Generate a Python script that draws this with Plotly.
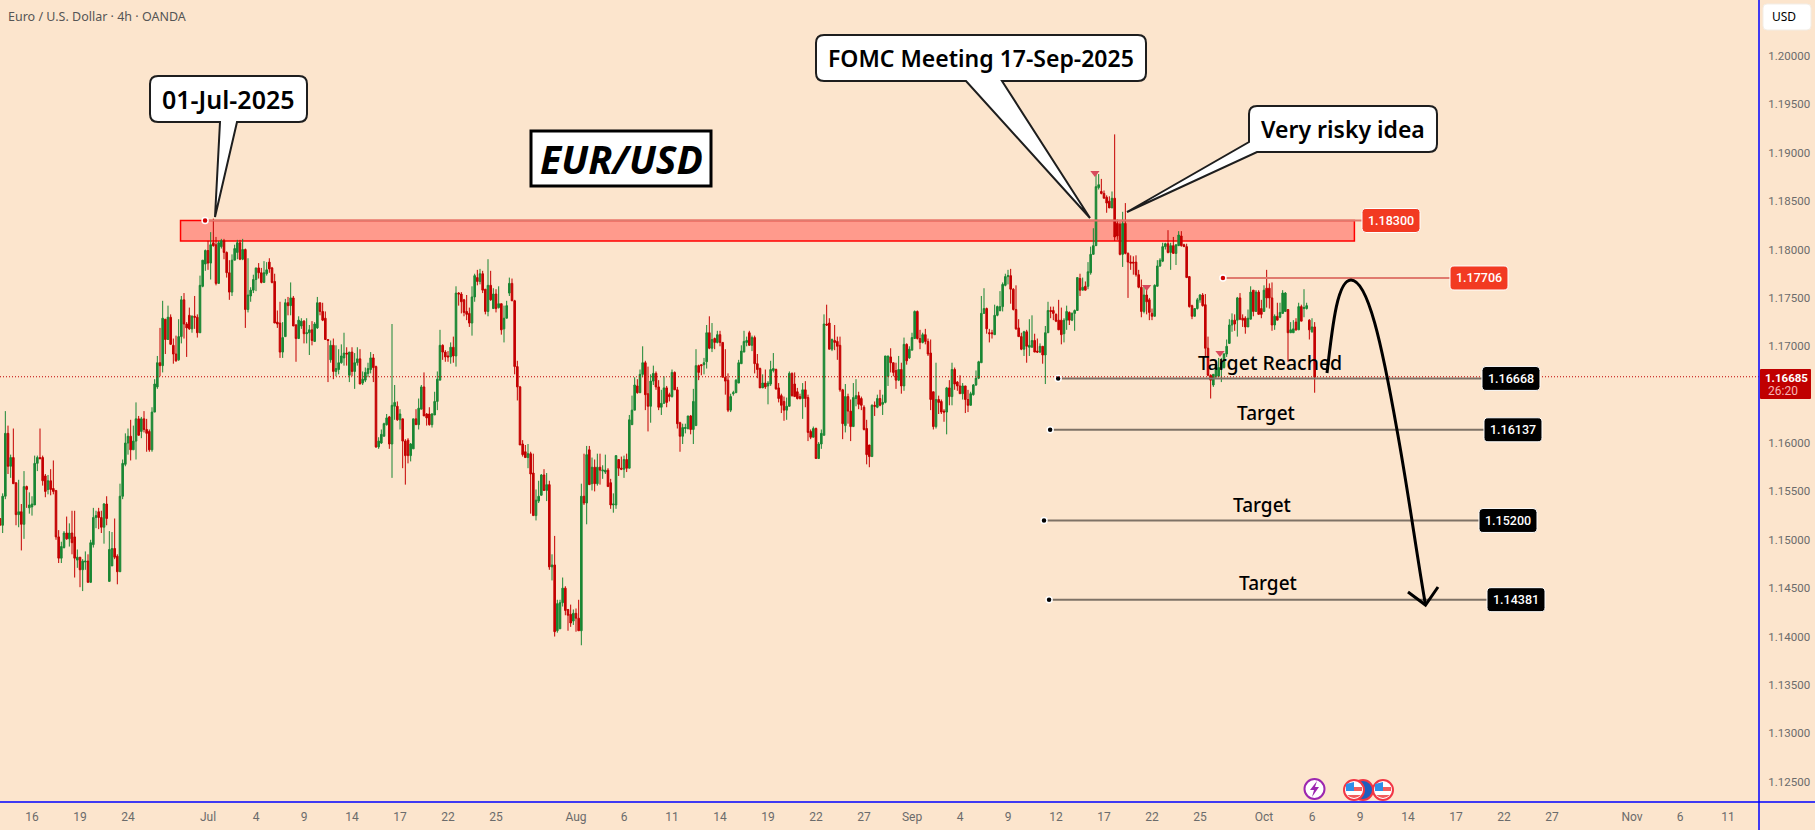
import re
import numpy as np
import plotly.graph_objects as go

# --- 4h candles, prices in 1/10000 USD -------------------------------------
direction = (
    "RGGRGRRGRG" "RGGGGRRRGR" "RRRGGRGRRG" "RGGRGGGRRG" "RGGRRGGGGR"
    "GGRGRRRGGG" "RGRGRRRGGR" "RRGRRGGGRG" "RRGGRRRGGG" "RGRGGGGRRG"
    "GRRRRRGGRG" "RRGGRGGRGG" "RRRRGRGGGG" "RGRGGRGGGG" "RRGGGGRGGR"
    "GRRRGGRGGR" "RRGGGGRRRG" "RGRRRRRGGR" "GRRGRGRGRG" "GGRRRRRRGR"
    "RGGGRGRGRG" "GGRRRGRRGR" "GRGRGRGGRR" "GGRRGRGGGR" "GGRRGGRRGG"
    "RRGRRRGGGR" "GGRRGGRGRG" "RRRRGGGGGG" "GRGRRRGRGG" "GRRRRGGRRR"
    "RGRRRGRGGG" "RRGRRRRGRR" "GGRRRRRGRG" "RGGGRRRGRG" "RGGGRRGRRR"
    "RGRRRGRGRR" "RGRRGGGGGG" "RRRGGGGGGR" "RRRRGRGGRR" "GRGGRRRRRG"
    "GRGGGRGRGG" "GGGRRRRGRR" "RGRRRRRRRG" "RRRGGGGGRG" "RGGRRRRRGG"
    "GRRRRGGGGG" "GGGRGRRRGG" "RGRRGRRRGR" "GGGRGGRGRG" "GRGR"
)

body_top = [
    11522,11545,11610,11610,11585,11585,11559,11529,11529,11555,
    11555,11536,11537,11579,11585,11585,11585,11566,11561,11561,
    11553,11551,11503,11493,11507,11507,11507,11507,11503,11482,
    11482,11478,11478,11478,11497,11523,11525,11529,11523,11537,
    11537,11490,11491,11491,11483,11545,11579,11600,11607,11607,
    11602,11625,11625,11625,11625,11614,11612,11632,11661,11683,
    11683,11729,11728,11730,11730,11701,11692,11710,11748,11748,
    11723,11732,11731,11731,11730,11763,11789,11799,11799,11805,
    11807,11805,11807,11809,11809,11797,11776,11789,11801,11807,
    11807,11800,11800,11753,11758,11769,11781,11781,11776,11776,
    11779,11787,11781,11767,11725,11724,11709,11745,11745,11750,
    11750,11722,11727,11726,11726,11714,11717,11717,11723,11745,
    11745,11736,11729,11707,11701,11701,11677,11683,11690,11693,
    11693,11694,11694,11683,11687,11687,11666,11673,11677,11688,
    11688,11679,11602,11609,11620,11626,11627,11639,11642,11638,
    11630,11625,11602,11603,11599,11625,11625,11636,11658,11658,
    11630,11630,11630,11643,11666,11701,11701,11694,11690,11699,
    11699,11755,11755,11754,11748,11736,11734,11751,11773,11771,
    11775,11775,11759,11763,11763,11754,11754,11744,11744,11729,
    11742,11765,11765,11747,11679,11658,11599,11591,11589,11589,
    11569,11541,11545,11567,11567,11557,11557,11474,11474,11434,
    11435,11450,11450,11428,11423,11424,11424,11419,11545,11545,
    11588,11593,11575,11575,11575,11575,11572,11572,11572,11559,
    11537,11587,11583,11574,11583,11583,11624,11634,11660,11659,
    11671,11683,11683,11651,11664,11672,11672,11658,11641,11657,
    11657,11650,11673,11673,11655,11621,11616,11616,11628,11628,
    11643,11680,11680,11681,11683,11714,11714,11707,11708,11712,
    11712,11704,11668,11665,11648,11652,11665,11683,11695,11705,
    11706,11714,11709,11709,11682,11677,11662,11662,11662,11676,
    11677,11676,11657,11649,11643,11638,11672,11672,11661,11653,
    11648,11655,11655,11647,11612,11615,11615,11599,11610,11723,
    11723,11724,11707,11706,11705,11701,11655,11648,11648,11633,
    11647,11649,11649,11646,11637,11615,11598,11639,11639,11646,
    11646,11642,11690,11690,11689,11683,11675,11676,11676,11702,
    11702,11697,11709,11736,11736,11708,11712,11712,11705,11693,
    11653,11645,11645,11643,11633,11657,11657,11676,11676,11663,
    11659,11659,11659,11645,11651,11660,11667,11684,11734,11739,
    11739,11714,11714,11732,11741,11741,11764,11772,11773,11773,
    11759,11738,11719,11710,11715,11715,11701,11706,11706,11695,
    11700,11700,11714,11737,11737,11737,11733,11727,11727,11727,
    11736,11735,11734,11737,11771,11770,11761,11762,11777,11795,
    11804,11865,11867,11860,11858,11854,11850,11853,11853,11827,
    11826,11827,11827,11796,11787,11787,11787,11774,11761,11753,
    11753,11748,11734,11763,11783,11789,11803,11806,11806,11804,
    11804,11805,11815,11814,11805,11803,11772,11742,11739,11748,
    11753,11753,11743,11698,11670,11671,11681,11678,11683,11692,
    11700,11722,11727,11727,11750,11750,11729,11729,11729,11756,
    11758,11756,11756,11739,11758,11760,11760,11750,11731,11731,
    11735,11755,11755,11738,11717,11718,11725,11741,11741,11740,
    11742,11727,11720,11720,
]

body_bottom = [
    11515,11515,11545,11576,11576,11558,11526,11526,11516,11516,
    11552,11533,11534,11536,11579,11584,11561,11550,11552,11552,
    11550,11503,11481,11481,11492,11501,11501,11497,11481,11479,
    11469,11469,11477,11456,11456,11495,11523,11523,11513,11513,
    11522,11457,11473,11482,11467,11467,11545,11578,11600,11593,
    11593,11602,11608,11612,11614,11610,11593,11593,11632,11658,
    11680,11680,11707,11707,11702,11692,11685,11686,11710,11723,
    11719,11718,11718,11730,11714,11714,11762,11785,11786,11786,
    11804,11765,11765,11803,11797,11776,11756,11756,11789,11797,
    11790,11790,11738,11738,11752,11758,11769,11776,11766,11766,
    11775,11780,11766,11724,11723,11694,11694,11710,11742,11742,
    11721,11708,11708,11721,11713,11713,11714,11706,11705,11719,
    11736,11727,11707,11706,11686,11674,11674,11676,11683,11688,
    11692,11670,11674,11674,11683,11661,11662,11665,11672,11676,
    11678,11596,11596,11600,11607,11619,11599,11599,11638,11624,
    11624,11602,11587,11587,11587,11594,11619,11619,11635,11628,
    11626,11619,11619,11629,11643,11665,11694,11689,11689,11689,
    11690,11690,11754,11746,11735,11733,11724,11724,11751,11767,
    11767,11758,11736,11736,11748,11739,11739,11740,11717,11718,
    11729,11755,11747,11679,11658,11598,11588,11585,11585,11568,
    11525,11525,11540,11546,11551,11551,11472,11472,11405,11406,
    11408,11435,11427,11422,11414,11416,11419,11406,11406,11538,
    11538,11557,11558,11558,11558,11572,11571,11570,11555,11536,
    11536,11536,11574,11573,11573,11574,11574,11619,11634,11652,
    11652,11671,11650,11638,11638,11664,11658,11637,11637,11641,
    11642,11648,11648,11655,11620,11607,11607,11615,11615,11614,
    11614,11618,11673,11680,11681,11684,11698,11698,11704,11704,
    11704,11668,11664,11634,11634,11651,11652,11662,11682,11694,
    11704,11701,11701,11682,11676,11657,11657,11658,11659,11661,
    11675,11656,11646,11639,11634,11634,11638,11649,11648,11646,
    11646,11646,11646,11611,11606,11606,11584,11584,11599,11608,
    11722,11697,11697,11704,11700,11655,11620,11618,11633,11617,
    11617,11646,11640,11639,11614,11588,11586,11586,11638,11637,
    11639,11640,11642,11669,11683,11673,11665,11665,11659,11659,
    11685,11688,11696,11708,11708,11704,11704,11705,11692,11645,
    11617,11617,11642,11632,11632,11632,11648,11648,11661,11659,
    11651,11651,11645,11639,11639,11650,11660,11667,11683,11734,
    11718,11713,11713,11712,11732,11737,11741,11763,11772,11759,
    11738,11718,11710,11697,11697,11700,11699,11699,11694,11694,
    11694,11691,11691,11714,11736,11734,11726,11717,11712,11713,
    11727,11727,11727,11734,11737,11758,11758,11758,11762,11776,
    11795,11804,11864,11858,11853,11848,11843,11843,11813,11814,
    11795,11795,11796,11787,11786,11786,11774,11761,11736,11736,
    11746,11735,11731,11731,11762,11783,11788,11803,11797,11797,
    11796,11796,11804,11804,11803,11771,11741,11731,11731,11739,
    11748,11742,11698,11670,11665,11660,11669,11669,11677,11678,
    11692,11703,11722,11723,11727,11728,11727,11720,11720,11728,
    11736,11736,11733,11733,11736,11750,11750,11722,11722,11727,
    11730,11734,11736,11714,11714,11714,11717,11717,11726,11739,
    11739,11717,11715,11668,
]

high = [
    11522,11548,11633,11618,11588,11615,11559,11562,11537,11571,
    11556,11549,11545,11587,11587,11615,11587,11568,11567,11573,
    11582,11551,11510,11498,11509,11524,11517,11530,11530,11490,
    11482,11480,11488,11485,11500,11533,11530,11533,11530,11538,
    11545,11509,11508,11522,11485,11558,11583,11610,11615,11624,
    11618,11642,11628,11627,11633,11625,11614,11637,11666,11690,
    11719,11747,11728,11742,11733,11708,11711,11728,11752,11755,
    11725,11740,11732,11752,11733,11773,11789,11800,11809,11818,
    11832,11813,11809,11811,11811,11798,11789,11795,11805,11810,
    11810,11811,11801,11791,11761,11774,11781,11786,11781,11788,
    11787,11791,11782,11775,11737,11746,11725,11749,11751,11766,
    11752,11723,11731,11729,11727,11729,11722,11726,11725,11751,
    11745,11745,11736,11707,11706,11708,11701,11697,11702,11714,
    11699,11694,11699,11693,11699,11697,11674,11678,11683,11694,
    11692,11680,11606,11614,11621,11630,11628,11723,11660,11643,
    11635,11625,11604,11605,11600,11625,11635,11646,11660,11673,
    11631,11637,11631,11653,11674,11717,11702,11696,11695,11704,
    11710,11762,11756,11756,11749,11753,11740,11762,11775,11779,
    11780,11778,11759,11790,11778,11760,11759,11762,11744,11742,
    11747,11771,11770,11748,11685,11659,11603,11598,11599,11591,
    11589,11552,11561,11568,11573,11569,11561,11485,11504,11438,
    11438,11461,11452,11428,11433,11428,11429,11438,11558,11589,
    11597,11597,11585,11583,11589,11589,11577,11588,11574,11563,
    11548,11587,11583,11586,11587,11589,11629,11649,11668,11666,
    11676,11700,11685,11679,11671,11680,11674,11665,11655,11669,
    11659,11652,11676,11674,11658,11622,11620,11620,11628,11629,
    11656,11697,11681,11681,11688,11722,11731,11724,11709,11716,
    11716,11704,11697,11672,11651,11654,11666,11686,11701,11716,
    11710,11716,11711,11711,11692,11678,11671,11676,11664,11685,
    11693,11677,11662,11651,11648,11647,11674,11673,11673,11657,
    11651,11662,11664,11650,11614,11617,11616,11601,11614,11733,
    11743,11729,11708,11722,11710,11710,11656,11661,11651,11645,
    11662,11666,11653,11648,11639,11624,11598,11640,11643,11650,
    11655,11650,11690,11690,11698,11683,11683,11690,11683,11709,
    11703,11700,11714,11737,11737,11717,11714,11718,11708,11707,
    11653,11683,11649,11645,11635,11658,11665,11683,11678,11664,
    11670,11662,11659,11655,11653,11661,11675,11685,11752,11760,
    11740,11718,11717,11743,11742,11757,11766,11775,11779,11780,
    11760,11763,11728,11714,11716,11717,11728,11732,11713,11708,
    11703,11700,11721,11746,11741,11741,11734,11748,11740,11729,
    11742,11736,11735,11738,11771,11775,11771,11767,11787,11803,
    11822,11878,11878,11873,11861,11856,11855,11860,11919,11831,
    11828,11839,11848,11797,11794,11793,11794,11779,11769,11762,
    11759,11750,11739,11764,11789,11791,11807,11807,11820,11807,
    11813,11805,11819,11819,11806,11806,11772,11743,11739,11750,
    11754,11755,11754,11710,11671,11671,11686,11688,11688,11693,
    11707,11728,11734,11733,11751,11755,11733,11731,11738,11762,
    11758,11758,11758,11748,11763,11779,11765,11766,11733,11745,
    11745,11758,11756,11738,11725,11727,11729,11745,11743,11759,
    11745,11728,11729,11725,
]

low = [
    11515,11507,11542,11568,11564,11558,11515,11513,11489,11501,
    11533,11527,11525,11536,11571,11583,11556,11544,11547,11546,
    11547,11500,11476,11476,11491,11500,11493,11485,11461,11471,
    11451,11447,11469,11456,11456,11492,11512,11511,11507,11496,
    11515,11457,11473,11480,11454,11467,11542,11576,11588,11582,
    11593,11583,11608,11605,11611,11591,11591,11591,11632,11656,
    11669,11673,11692,11707,11702,11682,11684,11685,11703,11708,
    11689,11717,11714,11718,11709,11714,11761,11778,11779,11769,
    11803,11763,11765,11801,11790,11771,11748,11752,11789,11790,
    11789,11789,11719,11735,11746,11755,11757,11770,11765,11766,
    11773,11776,11765,11724,11719,11688,11688,11710,11732,11732,
    11721,11684,11708,11718,11703,11703,11691,11701,11705,11718,
    11732,11726,11707,11663,11683,11666,11669,11671,11682,11680,
    11680,11663,11669,11656,11680,11661,11660,11663,11668,11672,
    11663,11595,11594,11599,11607,11618,11594,11564,11624,11623,
    11614,11574,11557,11579,11581,11594,11619,11614,11635,11628,
    11618,11618,11616,11629,11634,11665,11686,11684,11684,11682,
    11683,11679,11742,11734,11731,11727,11720,11711,11746,11763,
    11764,11755,11733,11731,11747,11739,11735,11739,11712,11704,
    11729,11752,11747,11671,11644,11598,11586,11585,11574,11527,
    11525,11520,11538,11546,11551,11540,11469,11458,11400,11404,
    11408,11431,11422,11406,11410,11412,11405,11406,11391,11536,
    11516,11557,11551,11550,11556,11557,11563,11568,11555,11532,
    11528,11532,11566,11572,11564,11570,11574,11619,11634,11651,
    11652,11668,11634,11612,11621,11660,11655,11634,11629,11641,
    11637,11643,11647,11655,11615,11591,11599,11610,11614,11609,
    11599,11618,11665,11670,11671,11677,11697,11694,11697,11703,
    11700,11668,11650,11632,11632,11649,11652,11662,11682,11694,
    11700,11701,11695,11672,11667,11657,11657,11656,11640,11659,
    11673,11655,11642,11631,11623,11624,11638,11648,11648,11645,
    11645,11625,11637,11602,11604,11606,11584,11584,11594,11608,
    11721,11697,11695,11696,11686,11653,11604,11611,11620,11602,
    11617,11638,11635,11634,11613,11578,11575,11586,11628,11636,
    11638,11629,11641,11659,11673,11669,11656,11664,11651,11654,
    11681,11687,11696,11708,11707,11697,11703,11702,11690,11634,
    11614,11615,11630,11630,11622,11609,11639,11639,11655,11654,
    11651,11645,11631,11632,11639,11649,11659,11666,11683,11734,
    11713,11704,11708,11712,11731,11736,11736,11762,11764,11744,
    11737,11717,11710,11696,11690,11683,11690,11699,11694,11693,
    11693,11682,11661,11714,11729,11727,11725,11717,11702,11704,
    11717,11722,11726,11716,11737,11752,11758,11758,11759,11774,
    11795,11804,11862,11857,11853,11838,11843,11843,11809,11810,
    11794,11782,11795,11750,11779,11774,11772,11760,11730,11734,
    11733,11727,11727,11731,11762,11782,11787,11800,11796,11779,
    11796,11784,11804,11803,11803,11771,11740,11728,11731,11738,
    11745,11741,11689,11669,11646,11658,11667,11669,11663,11677,
    11689,11703,11715,11716,11710,11727,11720,11713,11720,11728,
    11731,11736,11733,11729,11736,11740,11739,11716,11717,11727,
    11729,11734,11736,11684,11714,11714,11716,11717,11726,11730,
    11738,11707,11714,11652,
]

assert len(direction) == len(body_top) == len(body_bottom) == len(high) == len(low)

# --- axis ticks ------------------------------------------------------------
time_tick_bars = [12, 30, 48, 78, 96, 114, 132, 150, 168, 186, 216, 234, 252, 270, 288, 306,
                  324, 342, 360, 378, 396, 414, 432, 450, 474, 492, 510, 528, 546, 564, 582,
                  612, 630, 648]
time_tick_labels = ["16", "19", "24", "Jul", "4", "9", "14", "17", "22", "25", "Aug", "6", "11",
                    "14", "19", "22", "27", "Sep", "4", "9", "12", "17", "22", "25", "Oct", "6",
                    "9", "14", "17", "22", "27", "Nov", "6", "11"]
# 1.16500 sits under the last-price tag, so the scale leaves it out
price_ticks = [1.125, 1.13, 1.135, 1.14, 1.145, 1.15, 1.155, 1.16,
               1.17, 1.175, 1.18, 1.185, 1.19, 1.195, 1.20]

# --- horizontal levels: price, first bar, last bar, tag colour, tag left edge ---
level_prices = [1.18300, 1.17706, 1.16668, 1.16137, 1.15200, 1.14381]
level_start_bar = [76.9, 458.6, 396.8, 393.8, 391.5, 393.4]
level_end_bar = [510.7, 543.7, 555.7, 556.5, 554.6, 557.6]
level_tag_left = [1362, 1450, 1482, 1484, 1479, 1487]
level_tag_color = ["#F23A22", "#F23A22", "#000000", "#000000", "#000000", "#000000"]
level_line_color = ["#E07A6E", "#E07A6E", "#7E7266", "#7E7266", "#7E7266", "#7E7266"]
level_dot_color = ["#D00000", "#D00000", "#000000", "#000000", "#000000", "#000000"]

last_price = 1.16685
zone_top, zone_bottom = 1.18300, 1.18088
zone_first_bar, zone_last_bar = 67.7, 507.9
marker_bars = [410.6, 430.0, 457.5]
marker_prices = [1.18791, 1.17613, 1.16931]

UP_COLOR = "#1A8734"
DOWN_COLOR = "#C40000"
BG = "#FCE5CD"
AXIS_BLUE = "#0000FF"
TEXT_FONT = "Noto Sans"
SCALE_FONT = "Roboto"

# --- page geometry -----------------------------------------------------------
WIDTH, HEIGHT = 1815, 830
PLOT_W, PLOT_H = 1759, 802
BAR_PX = 8 / 3
Y_MIN, Y_MAX = 1.12290, 1.20579


def px(x):
    return x / PLOT_W


def py(y):
    return 1 - y / PLOT_H


def price_to_y(price):
    return (Y_MAX - price) / (Y_MAX - Y_MIN) * PLOT_H


def paper_path(path):
    """Turn an SVG path written in page pixels into paper coordinates."""
    return re.sub(r"(-?[\d.]+),(-?[\d.]+)",
                  lambda m: f"{px(float(m[1])):.6f},{py(float(m[2])):.6f}", path)


def rounded(x0, y0, x1, y1, r):
    return (f"M {x0 + r},{y0} L {x1 - r},{y0} Q {x1},{y0} {x1},{y0 + r} "
            f"L {x1},{y1 - r} Q {x1},{y1} {x1 - r},{y1} L {x0 + r},{y1} "
            f"Q {x0},{y1} {x0},{y1 - r} L {x0},{y0 + r} Q {x0},{y0} {x0 + r},{y0} Z")


def path_shape(path, fill="rgba(0,0,0,0)", line="rgba(0,0,0,0)", width=0, layer="above"):
    return dict(type="path", xref="paper", yref="paper", path=paper_path(path),
                fillcolor=fill, line=dict(color=line, width=width), layer=layer)


def circle(cx, cy, r, fill, line, width):
    return dict(type="circle", xref="paper", yref="paper",
                x0=px(cx - r), x1=px(cx + r), y0=py(cy + r), y1=py(cy - r),
                fillcolor=fill, line=dict(color=line, width=width), layer="above")


def label(x, y, text, size, color="#000000", font=TEXT_FONT, anchor="center", weight=None, italic=False):
    f = dict(family=font, size=size, color=color)
    if weight:
        f["weight"] = weight
    if italic:
        f["style"] = "italic"
    return dict(xref="paper", yref="paper", x=px(x), y=py(y), text=text, showarrow=False,
                xanchor=anchor, yanchor="middle", font=f, borderpad=0, borderwidth=0)


is_up = np.array([d == "G" for d in direction])
top = np.array(body_top) / 10000
bottom = np.array(body_bottom) / 10000
bars = np.arange(len(direction))

fig = go.Figure()
fig.add_trace(go.Candlestick(
    x=bars,
    open=np.where(is_up, bottom, top),
    close=np.where(is_up, top, bottom),
    high=np.array(high) / 10000,
    low=np.array(low) / 10000,
    increasing=dict(line=dict(color=UP_COLOR, width=1), fillcolor=UP_COLOR),
    decreasing=dict(line=dict(color=DOWN_COLOR, width=1), fillcolor=DOWN_COLOR),
    whiskerwidth=0,
    hoverinfo="skip",
))

for price, start, end, color in zip(level_prices, level_start_bar, level_end_bar, level_line_color):
    fig.add_trace(go.Scatter(x=[start, end], y=[price, price], mode="lines",
                             line=dict(color=color, width=2), hoverinfo="skip"))
fig.add_trace(go.Scatter(x=level_start_bar, y=level_prices, mode="markers",
                         marker=dict(size=6, color=level_dot_color, line=dict(color="#FFFFFF", width=1.5)),
                         hoverinfo="skip"))
fig.add_trace(go.Scatter(x=marker_bars, y=marker_prices, mode="markers",
                         marker=dict(symbol="triangle-down", size=8, color="#D94A5C"),
                         hoverinfo="skip"))

shapes = [
    # resistance zone behind the candles
    dict(type="rect", xref="x", yref="y", x0=zone_first_bar, x1=zone_last_bar,
         y0=zone_bottom, y1=zone_top, fillcolor="#FF9A8C",
         line=dict(color="#FF0000", width=1.5), layer="below"),
    # dotted last-price line
    dict(type="line", xref="paper", yref="y", x0=0, x1=1, y0=last_price, y1=last_price,
         line=dict(color="#C00000", width=1, dash="1px,2px"), layer="above"),
    # scale borders
    dict(type="line", xref="paper", yref="paper", x0=0, x1=WIDTH / PLOT_W, y0=0, y1=0,
         line=dict(color=AXIS_BLUE, width=1.5), layer="above"),
    dict(type="line", xref="paper", yref="paper", x0=1, x1=1, y0=py(HEIGHT), y1=1,
         line=dict(color=AXIS_BLUE, width=1.5), layer="above"),
    # title box
    dict(type="rect", xref="paper", yref="paper", x0=px(531), x1=px(711), y0=py(186), y1=py(131),
         fillcolor="#FFFFFF", line=dict(color="#000000", width=3), layer="above"),
    # callouts with their tails
    path_shape("M 158,76 L 299,76 Q 307,76 307,84 L 307,114 Q 307,122 299,122 L 237,122 L 215,217 "
               "L 220,122 L 158,122 Q 150,122 150,114 L 150,84 Q 150,76 158,76 Z",
               fill="#FFFFFF", line="#1E1E1E", width=2),
    path_shape("M 824,35 L 1138,35 Q 1146,35 1146,43 L 1146,73 Q 1146,81 1138,81 L 1002,81 L 1090,218 "
               "L 966,81 L 824,81 Q 816,81 816,73 L 816,43 Q 816,35 824,35 Z",
               fill="#FFFFFF", line="#1E1E1E", width=2),
    path_shape("M 1257,106 L 1429,106 Q 1437,106 1437,114 L 1437,144 Q 1437,152 1429,152 L 1257,152 "
               "L 1127,212 L 1249,142 L 1249,114 Q 1249,106 1257,106 Z",
               fill="#FFFFFF", line="#1E1E1E", width=2),
    # projected path and arrow head
    path_shape("M 1327,373 C 1333,320 1338,280 1351,280 C 1368,280 1382,345 1397,430 "
               "C 1408,490 1416,550 1425.5,605", line="#000000", width=3),
    path_shape("M 1408,592 L 1425.5,605 L 1438,587", line="#000000", width=3),
    # price tag and currency button
    path_shape(rounded(1760, 369, 1811, 399, 1), fill="#C00000"),
    path_shape(rounded(1763, 4, 1811, 30, 4), fill="#FFFFFF", line="#F3EDE6", width=1),
]

annotations = [
    label(8, 17, "Euro / U.S. Dollar · 4h · OANDA", 12.5, color="#555555", anchor="left"),
    label(621, 158, "EUR/USD", 39, weight=700, italic=True),
    label(228.5, 99, "01-Jul-2025", 25, weight=600),
    label(981, 58, "FOMC Meeting 17-Sep-2025", 23, weight=600),
    label(1343, 129, "Very risky idea", 23, weight=600),
    label(1270, 362, "Target Reached", 19.5, weight=500),
    label(1266, 413, "Target", 19, weight=500),
    label(1262, 505, "Target", 19, weight=500),
    label(1268, 583, "Target", 19, weight=500),
    label(1772, 17, "USD", 12, anchor="left"),
    label(1787, 378, f"{last_price:.5f}", 11.5, color="#FFFFFF", font=SCALE_FONT, weight=700),
    label(1768, 391, "26:20", 12, color="#F5B5B5", font=SCALE_FONT, anchor="left"),
]

# level price tags
for price, left, color in zip(level_prices, level_tag_left, level_tag_color):
    yc = price_to_y(price)
    shapes.append(path_shape(rounded(left, yc - 12, left + 58, yc + 12, 4),
                             fill=color, line="#FFFFFF", width=1))
    annotations.append(label(left + 29, yc, f"{price:.5f}", 12.5, color="#FFFFFF", font=SCALE_FONT, weight=500))

# economic event badges along the bottom of the chart
shapes.append(circle(1314.5, 789, 10, "#FFFFFF", "#9C27B0", 2))
shapes.append(path_shape("M 1317,781 L 1310,790 L 1314,790 L 1312,797 L 1319,787 L 1315,787 Z", fill="#9C27B0"))
shapes.append(circle(1363, 790, 10, "#1E5FBF", "#F23645", 2))
for cx in (1354, 1383):
    cy = 790
    shapes.append(circle(cx, cy, 10, "#FFFFFF", "#F23645", 2))
    shapes.append(path_shape(f"M {cx - 8},{cy - 6} L {cx},{cy - 8} L {cx},{cy + 1} L {cx - 8},{cy + 1} Z",
                             fill="#2F8FE8"))
    shapes.append(path_shape(f"M {cx},{cy - 3} L {cx + 8},{cy - 3} L {cx + 8},{cy + 1} L {cx},{cy + 1} Z",
                             fill="#F25C5C"))
    shapes.append(path_shape(f"M {cx - 7},{cy + 5} L {cx + 7},{cy + 5} Q {cx},{cy + 11} {cx - 7},{cy + 5} Z",
                             fill="#F25C5C"))

fig.update_layout(
    width=WIDTH, height=HEIGHT,
    margin=dict(l=0, r=WIDTH - PLOT_W, t=0, b=HEIGHT - PLOT_H, autoexpand=False),
    paper_bgcolor=BG, plot_bgcolor=BG,
    showlegend=False, dragmode=False,
    boxgap=0.15,
    shapes=shapes, annotations=annotations,
    xaxis=dict(range=[0, PLOT_W / BAR_PX], rangeslider=dict(visible=False), showgrid=False, zeroline=False,
               tickmode="array", tickvals=time_tick_bars, ticktext=time_tick_labels,
               ticks="outside", ticklen=4, tickcolor="rgba(0,0,0,0)", showline=False,
               tickfont=dict(family=SCALE_FONT, size=12, color="#6B6B6B")),
    yaxis=dict(range=[Y_MIN, Y_MAX], side="right", showgrid=False, zeroline=False,
               tickmode="array", tickvals=price_ticks, tickformat=".5f",
               ticks="outside", ticklen=6, tickcolor="rgba(0,0,0,0)", showline=False,
               tickfont=dict(family=SCALE_FONT, size=11.5, color="#6B6B6B")),
)

fig.write_html("out.html")
